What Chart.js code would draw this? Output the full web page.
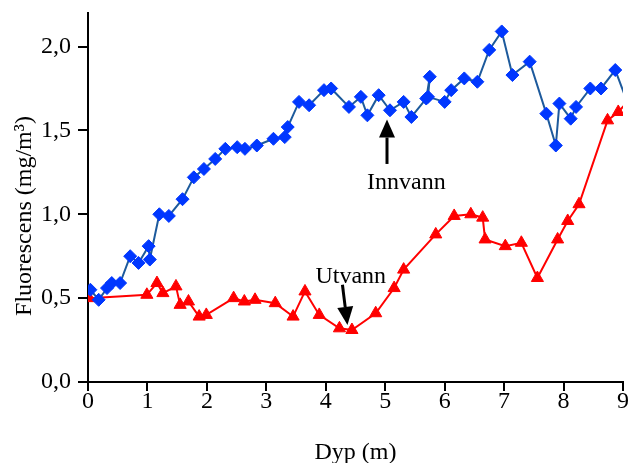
<!DOCTYPE html>
<html>
<head>
<meta charset="utf-8">
<script src="https://cdn.jsdelivr.net/npm/chart.js@4.4.1/dist/chart.umd.min.js"></script>
<style>
  body { margin: 0; background: #fff; }
</style>
</head>
<body>
<canvas id="fluorChart" width="631" height="463"></canvas>
<script>
// Innvann (blue diamonds)
const innDepth = [0.04, 0.18, 0.32, 0.40, 0.54, 0.71, 0.85, 1.02, 1.04, 1.20,
                  1.36, 1.59, 1.78, 1.95, 2.14, 2.31, 2.51, 2.64, 2.84, 3.12,
                  3.31, 3.36, 3.55, 3.72, 3.97, 4.09, 4.39, 4.59, 4.70, 4.89,
                  5.08, 5.31, 5.44, 5.69, 5.75, 5.72, 6.00, 6.11, 6.33, 6.55,
                  6.75, 6.96, 7.14, 7.43, 7.71, 7.87, 7.93, 8.12, 8.21, 8.45,
                  8.63, 8.87, 9.05];
const innFluor = [0.55, 0.49, 0.56, 0.59, 0.59, 0.75, 0.71, 0.81, 0.73, 1.00,
                  0.99, 1.09, 1.22, 1.27, 1.33, 1.39, 1.40, 1.39, 1.41, 1.45,
                  1.46, 1.52, 1.67, 1.65, 1.74, 1.75, 1.64, 1.70, 1.59, 1.71,
                  1.62, 1.67, 1.58, 1.69, 1.82, 1.70, 1.67, 1.74, 1.81, 1.79,
                  1.98, 2.09, 1.83, 1.91, 1.60, 1.41, 1.66, 1.57, 1.64, 1.75,
                  1.75, 1.86, 1.69];

// Utvann (red triangles)
const utDepth = [0.02, 0.99, 1.16, 1.26, 1.48, 1.55, 1.69, 1.87, 1.99, 2.45,
                 2.63, 2.81, 3.15, 3.45, 3.65, 3.89, 4.23, 4.44, 4.84, 5.15,
                 5.31, 5.85, 6.16, 6.44, 6.64, 6.68, 7.02, 7.29, 7.56, 7.90,
                 8.07, 8.26, 8.74, 8.92, 9.05];
const utFluor = [0.50, 0.52, 0.59, 0.53, 0.57, 0.46, 0.48, 0.39, 0.40, 0.50,
                 0.48, 0.49, 0.47, 0.39, 0.54, 0.40, 0.32, 0.31, 0.41, 0.56,
                 0.67, 0.88, 0.99, 1.00, 0.98, 0.85, 0.81, 0.83, 0.62, 0.85,
                 0.96, 1.06, 1.56, 1.61, 1.66];

const yTickLabels = ['0,0', '0,5', '1,0', '1,5', '2,0'];
const xTickLabels = ['0', '1', '2', '3', '4', '5', '6', '7', '8', '9'];

const serif = '"Liberation Serif", "Times New Roman", serif';

// text labels with arrows, in data units
const notes = [
    { text: 'Innvann', tx: 5.355, ty: 1.19, from: [5.03, 1.30], to: [5.03, 1.565] },
    { text: 'Utvann', tx: 4.42, ty: 0.63, from: [4.28, 0.58], to: [4.365, 0.34] }
];

function toPoints(xs, ys) {
    return xs.map((x, i) => ({ x: x, y: ys[i] }));
}

function drawArrow(ctx, x0, y0, x1, y1) {
    const ang = Math.atan2(y1 - y0, x1 - x0);
    const headLen = 18, headW = 8;
    const bx = x1 - Math.cos(ang) * headLen;
    const by = y1 - Math.sin(ang) * headLen;
    ctx.beginPath();
    ctx.moveTo(x0, y0);
    ctx.lineTo(bx, by);
    ctx.lineWidth = 3;
    ctx.strokeStyle = '#000';
    ctx.stroke();
    ctx.beginPath();
    ctx.moveTo(x1, y1);
    ctx.lineTo(bx + Math.sin(ang) * headW, by - Math.cos(ang) * headW);
    ctx.lineTo(bx - Math.sin(ang) * headW, by + Math.cos(ang) * headW);
    ctx.closePath();
    ctx.fillStyle = '#000';
    ctx.fill();
}

const notePlugin = {
    id: 'notes',
    afterDatasetsDraw(chart) {
        const { ctx, scales: { x, y } } = chart;
        ctx.save();
        ctx.font = '24px ' + serif;
        ctx.fillStyle = '#000';
        ctx.textAlign = 'center';
        ctx.textBaseline = 'middle';
        notes.forEach(n => {
            ctx.fillText(n.text, x.getPixelForValue(n.tx), y.getPixelForValue(n.ty));
            drawArrow(ctx,
                x.getPixelForValue(n.from[0]), y.getPixelForValue(n.from[1]),
                x.getPixelForValue(n.to[0]), y.getPixelForValue(n.to[1]));
        });
        // y axis title
        ctx.translate(31, 216);
        ctx.rotate(-Math.PI / 2);
        ctx.textBaseline = 'alphabetic';
        ctx.fillText('Fluorescens (mg/m³)', 0, 0);
        ctx.restore();
    }
};

const axisFont = { family: serif, size: 24 };

new Chart(document.getElementById('fluorChart').getContext('2d'), {
    type: 'scatter',
    data: {
        datasets: [
            {
                label: 'Innvann',
                data: toPoints(innDepth, innFluor),
                showLine: true,
                borderColor: '#1d5a9c',
                borderWidth: 2,
                pointStyle: 'rectRot',
                pointRadius: c => (c.raw && c.raw.x > 9 ? 0 : 6.5),
                pointBackgroundColor: '#0037ff',
                pointBorderColor: '#0037ff',
                pointBorderWidth: 1
            },
            {
                label: 'Utvann',
                data: toPoints(utDepth, utFluor),
                showLine: true,
                borderColor: '#ff0000',
                borderWidth: 2,
                pointStyle: 'triangle',
                pointRadius: c => (c.raw && c.raw.x > 9 ? 0 : 7),
                pointBackgroundColor: '#ff0000',
                pointBorderColor: '#ff0000',
                pointBorderWidth: 1
            }
        ]
    },
    options: {
        responsive: false,
        animation: false,
        devicePixelRatio: 1,
        layout: { padding: { top: 13, right: 6, left: 0, bottom: 0 } },
        plugins: {
            legend: { display: false },
            tooltip: { enabled: false }
        },
        scales: {
            x: {
                type: 'linear',
                min: 0,
                max: 9,
                border: { color: '#000', width: 2 },
                grid: { drawOnChartArea: false, tickLength: 9, color: '#000', lineWidth: 2 },
                ticks: {
                    stepSize: 1,
                    color: '#000',
                    font: axisFont,
                    padding: -4,
                    maxRotation: 0,
                    callback: (v, i) => xTickLabels[i]
                },
                title: { display: true, text: 'Dyp (m)', color: '#000', font: axisFont, padding: { top: 0, bottom: -4 } },
                afterFit: s => {
                    s.height = 81;
                    s.paddingLeft = 0;
                    s.paddingRight = 0;
                }
            },
            y: {
                min: 0,
                max: 2.2,
                border: { color: '#000', width: 2 },
                grid: { drawOnChartArea: false, tickLength: 10, color: '#000', lineWidth: 2 },
                ticks: {
                    stepSize: 0.5,
                    includeBounds: false,
                    color: '#000',
                    font: axisFont,
                    padding: 7,
                    callback: (v, i) => yTickLabels[i]
                },
                afterFit: s => {
                    s.width = 88;
                    s.paddingTop = 0;
                    s.paddingBottom = 0;
                }
            }
        }
    },
    plugins: [notePlugin]
});
</script>
</body>
</html>
